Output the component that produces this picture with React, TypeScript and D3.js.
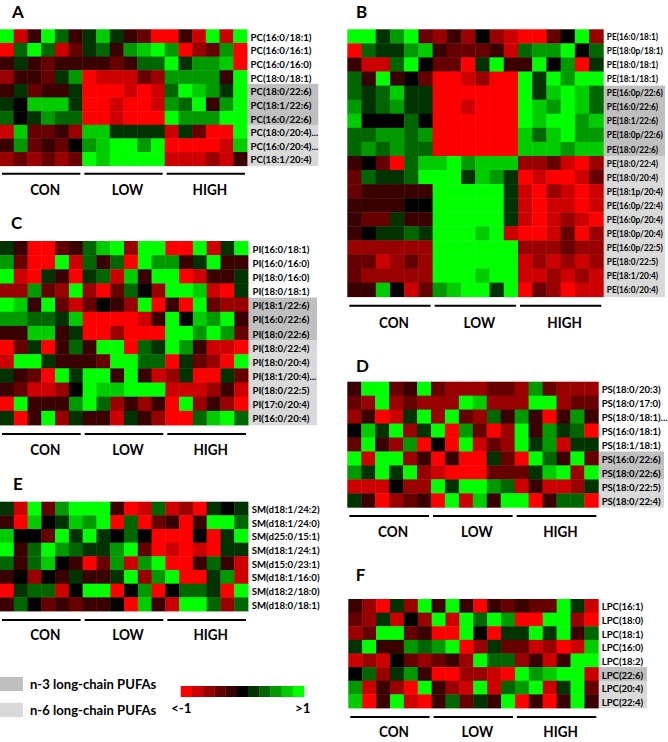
import React from "react";
import * as d3 from "d3";

// ---------- data ----------
const groups = ["CON", "LOW", "HIGH"];
const perGroup = 6;
const samples = groups.flatMap((g) => d3.range(1, perGroup + 1).map((i) => `${g}${i}`));

const colorSteps = ["#ff0000", "#cc0000", "#990000", "#660000", "#3a0000", "#000000", "#003300", "#006600", "#009900", "#00cc00", "#00ff00"];
const legendTicks = ["<-1", ">1"];
const pufaLegend = [
  { key: "n3", label: "n-3 long-chain PUFAs" },
  { key: "n6", label: "n-6 long-chain PUFAs" },
];

const pcLabels = ["PC(16:0/18:1)", "PC(16:0/16:1)", "PC(16:0/16:0)", "PC(18:0/18:1)", "PC(18:0/22:6)", "PC(18:1/22:6)", "PC(16:0/22:6)", "PC(18:0/20:4)...", "PC(16:0/20:4)...", "PC(18:1/20:4)"];
const pcClass = ["", "", "", "", "n3", "n3", "n3", "n6", "n6", "n6"];
const pcValues = [
  [1, -.8, -.2, 1, .4, -.2, .2, .8, .2, -.2, -.4, -1, -1, -.2, -.8, 1, -.8, 1],
  [-1, .4, 1, .4, -.8, -.4, .2, .4, -.2, .6, .8, 1, .6, -1, -.6, -.4, .6, -1],
  [-.2, .2, -.2, -.4, -.2, -.2, -.2, -.2, -.4, -.2, .4, .4, 1, .2, .6, .6, .8, -1],
  [-.6, -.2, -.2, -.4, .2, .6, -1, -.8, -.8, -.8, -.4, -.6, .6, .6, .6, .6, -.2, 1],
  [-.2, .2, -.4, -.2, -.2, .2, -1, -1, -1, -.8, -1, -.8, .4, 1, .8, .6, .2, 1],
  [.2, 0, .8, .8, .8, .2, -1, -1, -.8, -1, -1, -.8, .6, .4, 1, -.2, .6, 1],
  [.4, 0, .2, .6, .4, .4, -1, -1, -.8, -1, -1, -1, 1, .6, .6, .6, 1, 1],
  [-.8, .8, -.4, -.4, -.2, -.6, .8, .8, .2, .2, .2, .2, -.8, .2, -.4, -1, -1, 1],
  [-.2, .6, -.4, -.2, -.4, 0, .6, .8, 1, 1, .6, 1, -1, -1, -1, -1, -.8, .8],
  [-.6, -.4, -.6, -.4, -.6, -.4, 1, .8, 1, 1, 1, 1, -.8, -.8, -.8, -.6, -.8, -.2],
];

const peLabels = ["PE(16:0/18:1)", "PE(18:0p/18:1)", "PE(18:0/18:1)", "PE(18:1/18:1)", "PE(16:0p/22:6)", "PE(16:0/22:6)", "PE(18:1/22:6)", "PE(18:0p/22:6)", "PE(18:0/22:6)", "PE(18:0/22:4)", "PE(18:0/20:4)", "PE(18:1p/20:4)", "PE(16:0p/22:4)", "PE(16:0p/20:4)", "PE(18:0p/20:4)", "PE(16:0p/22:5)", "PE(18:0/22:5)", "PE(18:1/20:4)", "PE(16:0/20:4)"];
const peClass = ["", "", "", "", "n3", "n3", "n3", "n3", "n3", "n6", "n6", "n6", "n6", "n6", "n6", "n6", "n6", "n6", "n6"];
const peValues = [
  [1, 1, .2, .6, 1, -.4, -.6, -.2, -.6, 0, -.6, -.8, -1, -1, -.4, 0, 1, -.6],
  [-1, .4, .2, .2, .6, .8, -.2, -.4, -.4, -.4, -.2, -.8, .4, .6, .6, 1, 0, .4],
  [-.2, -.8, -.8, .4, 1, 0, -.4, -.4, -1, .2, 1, -.2, -.2, 1, 0, .6, -1, .2],
  [.4, -.2, 1, -.2, 0, -.4, -1, -1, -.8, -.6, -1, -1, 1, .2, 1, .6, 1, 1],
  [.4, .2, .4, .8, .2, .2, -1, -1, -1, -1, -1, -1, 1, .2, .8, 1, .8, .4],
  [.6, .2, .4, .6, .2, .2, -1, -1, -.8, -1, -1, -1, 1, .8, .6, 1, .8, .4],
  [.8, 0, 0, 0, .4, 0, -1, -1, -1, -1, -1, -1, 1, .8, 1, 1, .6, .8],
  [.4, .4, .6, .6, .4, .6, -1, -1, -1, -1, -1, -1, .8, .4, .8, 1, .6, .6],
  [.4, .6, .4, .6, .4, .4, -1, -1, -1, -1, -1, -1, .8, .8, .8, .6, .8, .8],
  [-.2, 0, -.4, -1, .4, .8, .8, 1, .6, .8, .8, .8, -.6, -.6, -.4, -.8, -1, -.6],
  [-.4, .4, .2, .2, .4, 1, 1, 1, .2, .8, .6, .2, -1, -.8, -1, -1, -.8, -.4],
  [-.4, -.2, -.2, -.2, -.2, -.2, 1, 1, 1, 1, 1, .2, -.8, -1, -.6, -.8, -1, -.8],
  [-.2, -.2, -.2, -.2, 0, 0, 1, 1, 1, 1, 1, .2, -.8, -1, -.8, -.8, -1, -.8],
  [-.2, -.4, -.4, .2, -.2, -.2, 1, 1, 1, 1, 1, .2, -.8, -1, -.8, -.6, -.8, -1],
  [-.2, 0, .2, .2, .4, .2, 1, 1, 1, .8, 1, -.8, -1, -1, -.8, -.4, -1, -.6],
  [-.6, -.6, -.6, -.6, -.6, -.6, 1, 1, 1, 1, 1, 1, -.6, -.6, -.6, -.4, -.6, -.6],
  [-.4, -.4, -.8, -.6, -.4, -.6, 1, 1, 1, 1, 1, 1, -.8, -.6, -.8, -.6, -.8, -.6],
  [-.4, -.6, -.6, -.6, -.6, -.6, 1, 1, 1, .8, 1, 1, -.8, -.8, -.6, -.8, -.6, -.8],
  [-.2, -.2, .8, 0, -.8, -.4, .6, .8, 1, 1, .2, 1, -1, -.4, -.6, -1, -.8, -.8],
];

const piLabels = ["PI(16:0/18:1)", "PI(16:0/16:0)", "PI(18:0/16:0)", "PI(18:0/18:1)", "PI(18:1/22:6)", "PI(16:0/22:6)", "PI(18:0/22:6)", "PI(18:0/22:4)", "PI(18:0/20:4)", "PI(18:1/20:4)...", "PI(18:0/22:5)", "PI(17:0/20:4)", "PI(16:0/20:4)"];
const piClass = ["", "", "", "", "n3", "n3", "n3", "n6", "n6", "n6", "n6", "n6", "n6"];
const piValues = [
  [.2, -.2, -1, -1, -.4, -.2, .4, .8, 1, -.6, 1, 1, -1, -1, 1, -.8, .2, 1],
  [.6, -.4, -1, -1, 1, -.8, .4, -.2, .4, -1, 1, .6, .6, -.2, .2, 1, -.2, -.2],
  [1, -.8, -1, .2, -.2, -1, .2, .4, -.8, .8, -.2, 1, 1, -1, -.8, -.2, -.2, .2],
  [-.6, -.6, .6, -.4, -.6, 1, -.6, -1, -.4, .4, 0, -.6, 1, 1, .8, -.8, -1, .2],
  [1, .8, -.2, 1, -.4, -.8, -.4, 0, -.2, -.6, 1, -1, -.2, -1, 1, -.4, -.6, -.6],
  [.6, .6, .4, .4, .2, .8, -1, -1, -1, -1, -.8, -.2, 1, 0, .8, .6, 1, -.2],
  [-.2, -.2, .8, .8, -.2, .2, -1, -1, -.6, -1, -1, -1, 1, 1, .6, 1, .6, -.4],
  [-1, -.4, .2, -1, -.2, .4, -.2, 1, 1, -1, .4, .2, 1, .6, -.2, -.8, -.8, -1],
  [-.8, 1, 1, .2, -.2, -.2, -.2, -.4, 1, 1, .4, .4, -1, .2, -.4, -.6, -1, 1],
  [.2, -.2, -.4, -1, 1, .2, 1, 1, -.2, 1, -.2, -.8, -.6, .2, -1, -1, .2, -.4],
  [-.2, -.4, -.8, -.8, -.6, 0, 1, .8, .8, 1, 1, 1, -.8, -.8, -.8, -.6, -.2, -.8],
  [-1, 1, -.2, -.2, -.2, .6, 1, .4, -.6, -.2, -.6, -.2, -1, 1, -.6, -.2, -.6, -1],
  [.2, -1, -.2, 1, -.6, .2, -.2, -.2, -.8, .2, -.2, -.6, -1, -1, .4, .8, 1, .4],
];

const psLabels = ["PS(18:0/20:3)", "PS(18:0/17:0)", "PS(18:0/18:1)...", "PS(16:0/18:1)", "PS(18:1/18:1)", "PS(16:0/22:6)", "PS(18:0/22:6)", "PS(18:0/22:5)", "PS(18:0/22:4)"];
const psClass = ["", "", "", "", "", "n3", "n3", "n6", "n6"];
const psValues = [
  [-.2, 1, 1, -.4, -.2, 1, -.4, -.6, -.6, -.6, -.4, -.4, -.6, .6, -.4, -.6, -.6, -.6],
  [-.4, -.6, 1, -.6, -.4, -.6, -.6, -.6, 1, .8, -.6, -.6, -.6, 1, 1, -.6, -.4, -.4],
  [-.6, -.2, -1, -.8, .2, 1, -.6, 1, -.4, -.6, .4, -.2, .6, -.2, -1, -.2, .6, -.2],
  [0, .8, .2, 1, -.6, .2, 1, -1, .6, -.4, -1, -.6, 1, -.2, .6, .2, .4, -1],
  [-.4, 1, -.2, -.6, .6, -1, 0, -1, 1, -.8, -.4, -.6, 1, .2, .6, -.8, .2, .2],
  [1, -.8, 1, 1, -.6, -.2, -1, -.2, -1, -1, .2, -.4, -1, 1, .4, -.2, 1, -.4],
  [.6, .2, 1, .2, 1, -.6, -.8, -1, -1, -1, -.4, -.4, -.4, .2, .8, 1, -.6, 1],
  [-.8, -.8, -.8, 0, -.6, -.6, 1, .2, 1, 1, .6, .4, -.8, -.2, -.8, -.8, -.6, .2],
  [.2, -.2, -1, -.6, -.4, -.2, -1, 1, -.8, .8, -.2, 1, 1, -1, -.2, .4, .4, -1],
];

const smLabels = ["SM(d18:1/24:2)", "SM(d18:1/24:0)", "SM(d25:0/15:1)", "SM(d18:1/24:1)", "SM(d15:0/23:1)", "SM(d18:1/16:0)", "SM(d18:2/18:0)", "SM(d18:0/18:1)"];
const smClass = ["", "", "", "", "", "", "", ""];
const smValues = [
  [.2, -.8, 1, -.4, .6, 1, 1, 1, -.2, -1, -.8, .4, -.8, -.6, -1, .2, 0, .2],
  [-.2, -1, .8, 0, .2, .8, .6, 1, -1, .4, -1, -.4, -.2, -1, -.2, 1, 1, .4],
  [.8, 0, 0, -.4, 1, .2, 1, .2, 0, .4, 0, -1, -1, -1, 0, -1, .2, 1],
  [1, -.2, .4, 1, .6, .4, .2, .2, .6, 1, -.4, -1, -.8, -1, -.8, -1, .2, .2],
  [.4, -.2, .4, .8, 0, -.2, -1, -.4, .6, -.8, .6, 1, -1, -1, -.2, .4, -.2, -.8],
  [-.2, 0, -.6, 0, -.2, .2, -.2, -.2, .2, 1, -.6, .6, 1, -1, -1, .2, .6, -.8],
  [-1, .2, .4, .4, -.8, 0, 1, 1, -1, 0, .6, -1, 0, .4, .4, .2, -1, 1],
  [-.2, .4, 0, -.4, -.2, -.4, -.2, -.2, 0, -1, .8, -.2, -.8, 1, 1, .4, -.6, .4],
];

const lpcLabels = ["LPC(16:1)", "LPC(18:0)", "LPC(18:1)", "LPC(16:0)", "LPC(18:2)", "LPC(22:6)", "LPC(20:4)", "LPC(22:4)"];
const lpcClass = ["", "", "", "", "", "n3", "n6", "n6"];
const lpcValues = [
  [-.2, -.6, -1, .2, -.6, 1, -.2, 1, -.2, -1, -.2, -.4, -.2, -.4, -.4, 1, .2, -.8],
  [-.4, -.6, .2, -.8, 0, -.6, 1, -.8, 1, .4, 1, .6, -1, -1, 1, 1, -.6, -1],
  [-.6, -.4, 1, 1, -.4, -.2, -1, -1, 1, 0, -1, .2, .2, 1, .2, 1, -.2, .4],
  [.2, 1, -.2, -.2, .6, .4, .6, 1, -1, -.6, .2, -.4, -.4, -.8, -.6, -1, -.8, .8],
  [-.8, -.6, -.8, 0, -.4, -.6, -.4, -.2, -.6, 1, .4, .4, -.6, -.2, -.8, -.2, 1, 1],
  [0, .4, -.6, .2, .6, -.2, -1, -1, -.6, -.6, -.8, -1, 1, .6, .8, 1, 1, -.8],
  [.6, -.8, -.2, -.6, -1, 1, -.2, -.6, -.8, 1, -.8, .4, .6, 1, -.8, .2, 1, -.4],
  [.8, -1, -.2, 1, -.8, -1, -.2, .4, -.4, .2, -.2, 1, -1, -.2, -1, -.2, 1, -.2],
];

// ---------- styles / layout ----------
const FONT = "Lato, 'Open Sans', sans-serif";
const grayFill: Record<string, string> = { n3: "#bfbfbf", n6: "#d9d9d9" };
const color = d3.scaleQuantize<string>().domain([-1, 1]).range(colorSteps);

let measureCtx: CanvasRenderingContext2D | null = null;
function textWidth(t: string, fs: number) {
  if (!measureCtx) {
    const c = document.createElement("canvas");
    measureCtx = c.getContext("2d");
  }
  if (!measureCtx) return t.length * fs * 0.5;
  measureCtx.font = `bold ${fs}px Lato`;
  return measureCtx.measureText(t).width;
}
// horizontal squeeze so the label widths match the (narrow) original font
function squeeze(t: string, fs: number, target: number) {
  const w = textWidth(t, fs);
  return w > 0 ? Math.min(1.1, target / w) : 1;
}

type PanelSpec = {
  letter: string; labels: string[]; cls: string[]; values: number[][];
  x0: number; x1: number; y0: number; y1: number;
  labelX: number; grayX1: number; fs: number; refText: string; refW: number;
  lx: number; ly: number; barY: number; textY: number;
};

const panels: PanelSpec[] = [
  { letter: "A", labels: pcLabels, cls: pcClass, values: pcValues, x0: 0, x1: 247, y0: 29.3, y1: 165.7, labelX: 250.5, grayX1: 318.3, fs: 10.2, refText: "PC(16:0/18:1)", refW: 61, lx: 18, ly: 11.5, barY: 173.7, textY: 189 },
  { letter: "B", labels: peLabels, cls: peClass, values: peValues, x0: 347.3, x1: 603.3, y0: 29.3, y1: 296.7, labelX: 606.8, grayX1: 665, fs: 8.8, refText: "PE(16:0p/22:6)", refW: 56, lx: 361.7, ly: 11.5, barY: 305.7, textY: 322 },
  { letter: "C", labels: piLabels, cls: piClass, values: piValues, x0: 0, x1: 248, y0: 241, y1: 425, labelX: 252.5, grayX1: 317, fs: 10, refText: "PI(16:0/18:1)", refW: 57, lx: 16.7, ly: 222, barY: 434, textY: 449 },
  { letter: "D", labels: psLabels, cls: psClass, values: psValues, x0: 347.3, x1: 598.3, y0: 381.7, y1: 507.3, labelX: 601.7, grayX1: 664, fs: 10, refText: "PS(18:0/20:3)", refW: 59, lx: 362.5, ly: 365, barY: 516, textY: 531.5 },
  { letter: "E", labels: smLabels, cls: smClass, values: smValues, x0: 0, x1: 248, y0: 501.7, y1: 611, labelX: 251.7, grayX1: 320, fs: 10, refText: "SM(d18:1/24:2)", refW: 68, lx: 17.8, ly: 483, barY: 620, textY: 634 },
  { letter: "F", labels: lpcLabels, cls: lpcClass, values: lpcValues, x0: 348.3, x1: 598.3, y0: 599, y1: 708, labelX: 601.7, grayX1: 647, fs: 10, refText: "LPC(16:1)", refW: 41.6, lx: 360.5, ly: 574, barY: 717, textY: 731.5 },
];

function Panel({ p }: { p: PanelSpec }) {
  const x = d3.scaleBand<string>().domain(samples).range([p.x0, p.x1]);
  const y = d3.scaleBand<string>().domain(p.labels).range([p.y0, p.y1]);
  const bw = x.bandwidth();
  const bh = y.bandwidth();
  const sx = squeeze(p.refText, p.fs, p.refW);
  const gs = squeeze("CON", 14, 29);
  return (
    <g>
      <text x={p.lx} y={p.ly} textAnchor="middle" dominantBaseline="central" fontFamily={FONT} fontWeight={700} fontSize={17}>{p.letter}</text>
      {p.labels.map((lab, i) =>
        p.cls[i] ? (
          <rect key={"g" + lab} x={p.x1} y={y(lab)!} width={p.grayX1 - p.x1} height={bh + 0.3} fill={grayFill[p.cls[i]]} />
        ) : null
      )}
      {p.values.map((row, i) =>
        row.map((v, j) => (
          <rect key={i + "-" + j} x={x(samples[j])!} y={y(p.labels[i])!} width={bw + 0.4} height={bh + 0.4} fill={color(v)} />
        ))
      )}
      {p.labels.map((lab) => (
        <g key={lab} transform={`translate(${p.labelX},${y(lab)! + bh / 2 + 0.5}) scale(${sx},1)`}>
          <text x={0} y={0} dominantBaseline="central" fontFamily={FONT} fontWeight={700} fontSize={p.fs} fill="#000">{lab}</text>
        </g>
      ))}
      {groups.map((g) => {
        const a = x(`${g}1`)! + 2;
        const b = x(`${g}${perGroup}`)! + bw - 2;
        return (
          <g key={g}>
            <line x1={a} x2={b} y1={p.barY} y2={p.barY} stroke="#000" strokeWidth={2} />
            <g transform={`translate(${(a + b) / 2 + 4},${p.textY}) scale(${gs},1)`}>
              <text x={0} y={0} textAnchor="middle" dominantBaseline="central" fontFamily={FONT} fontWeight={700} fontSize={14.5}>{g}</text>
            </g>
          </g>
        );
      })}
    </g>
  );
}

function Legend() {
  const lx = d3.scaleBand<number>().domain(d3.range(colorSteps.length)).range([180.7, 304]);
  const ls = squeeze(pufaLegend[0].label, 13.5, 126.5);
  return (
    <g>
      {pufaLegend.map((d, i) => (
        <g key={d.key}>
          <rect x={0} y={677 + i * 26} width={23} height={14} fill={grayFill[d.key]} />
          <g transform={`translate(30,${684 + i * 26}) scale(${ls},1)`}>
            <text x={0} y={0} dominantBaseline="central" fontFamily={FONT} fontWeight={700} fontSize={13.5}>{d.label}</text>
          </g>
        </g>
      ))}
      {colorSteps.map((c, i) => (
        <rect key={c} x={lx(i)!} y={686} width={lx.bandwidth() + 0.3} height={11} fill={c} />
      ))}
      <text x={171} y={708} dominantBaseline="central" fontFamily={FONT} fontWeight={700} fontSize={13.5}>{legendTicks[0]}</text>
      <text x={310.7} y={708} textAnchor="end" dominantBaseline="central" fontFamily={FONT} fontWeight={700} fontSize={13.5}>{legendTicks[1]}</text>
    </g>
  );
}

export default function App() {
  return (
    <svg width={668} height={742} style={{ position: "absolute", left: 0, top: 0, background: "#fff" }}>
      {panels.map((p) => (
        <Panel key={p.letter} p={p} />
      ))}
      <Legend />
    </svg>
  );
}
